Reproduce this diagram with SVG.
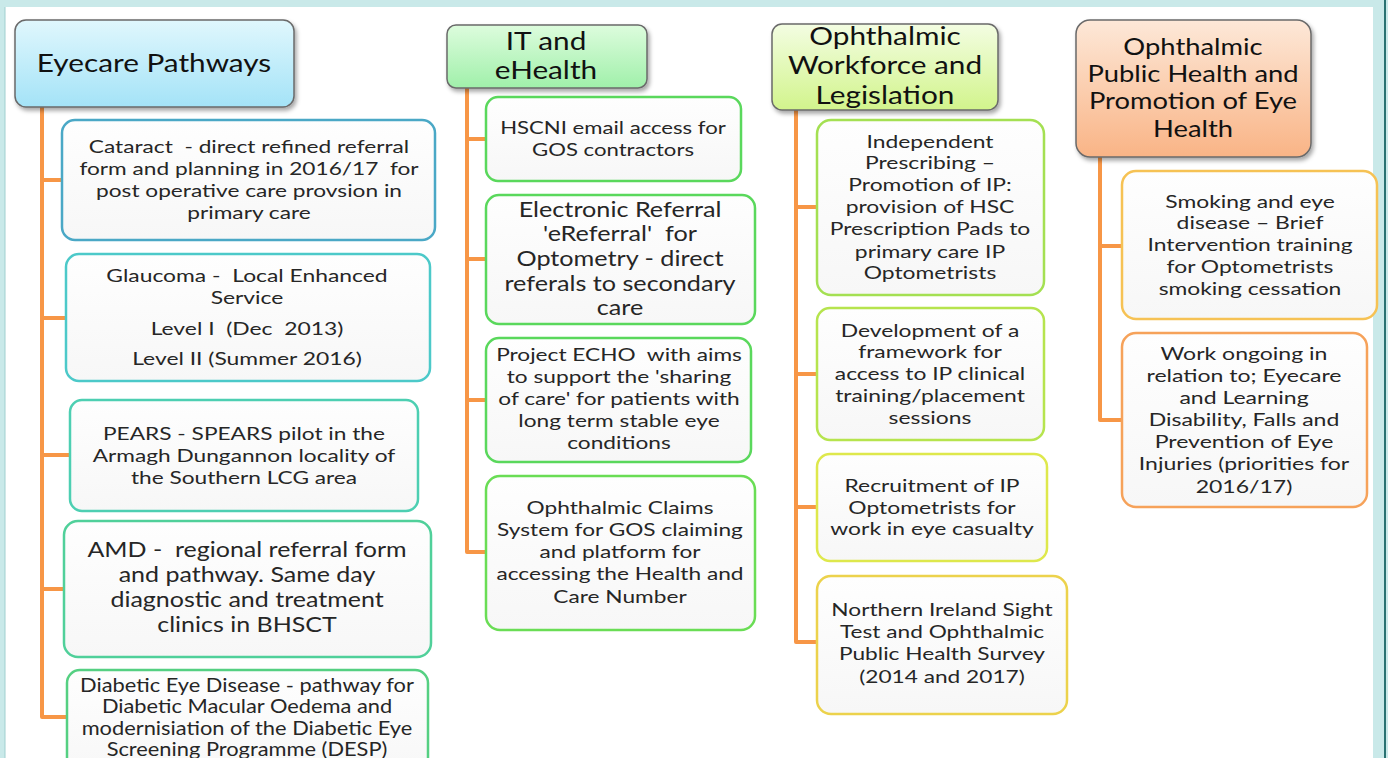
<svg xmlns="http://www.w3.org/2000/svg" width="1388" height="758" viewBox="0 0 1388 758">
<style>
text{font-family:Lato,"Liberation Sans",sans-serif;fill:#262626;text-anchor:middle;white-space:pre}
.h{font-size:25px;fill:#111}
.h2{font-size:23px;fill:#111}
.t{font-size:18px}
.tl{font-size:21px}
.tm{font-size:19.5px}
.box{fill:url(#bx);stroke-width:2.5}
.hd{stroke:#6a6a6a;stroke-width:1.5;filter:url(#sh)}
.con{fill:none;stroke:#f79646;stroke-width:4;stroke-linejoin:round}
</style>
<defs>
<linearGradient id="bx" x1="0" y1="0" x2="0" y2="1"><stop offset="0" stop-color="#fefefe"/><stop offset="1" stop-color="#f7f7f7"/></linearGradient>
<linearGradient id="g1" x1="0" y1="0" x2="0" y2="1"><stop offset="0" stop-color="#e0f7fd"/><stop offset="1" stop-color="#a4e3f7"/></linearGradient>
<linearGradient id="g2" x1="0" y1="0" x2="0" y2="1"><stop offset="0" stop-color="#ddfcdd"/><stop offset="1" stop-color="#a0f0aa"/></linearGradient>
<linearGradient id="g3" x1="0" y1="0" x2="0" y2="1"><stop offset="0" stop-color="#f3fde2"/><stop offset="1" stop-color="#d2f48c"/></linearGradient>
<linearGradient id="g4" x1="0" y1="0" x2="0" y2="1"><stop offset="0" stop-color="#fde8d8"/><stop offset="1" stop-color="#f9b486"/></linearGradient>
<filter id="sh" x="-10%" y="-10%" width="125%" height="130%"><feDropShadow dx="2" dy="3" stdDeviation="2" flood-color="#000" flood-opacity="0.35"/></filter>
</defs>
<rect x="0" y="0" width="1388" height="758" fill="#c9e9e9"/>
<rect x="5" y="7" width="1368" height="751" fill="#ffffff"/>
<line x1="5" y1="7" x2="5" y2="758" stroke="#9fcfcf" stroke-width="1"/>
<rect x="1384" y="0" width="2" height="758" fill="#2a7272"/>

<g id="connectors">
<path class="con" d="M42,107 V717 H67 M42,180 H62 M42,318 H66 M42,455 H70 M42,589 H64"/>
<path class="con" d="M467,88 V552 H486 M467,139 H486 M467,259 H486 M467,400 H486"/>
<path class="con" d="M796,110 V642 H817 M796,207 H817 M796,374 H817 M796,507 H817"/>
<path class="con" d="M1100,157 V420 H1122 M1100,246 H1122"/>
</g>

<g id="h-eyecare">
<rect class="hd" x="15" y="20" width="279" height="87" rx="11" fill="url(#g1)"/>
<g transform="translate(154 0) scale(1.19 1)"><text class="h" x="0" y="72">Eyecare Pathways</text></g>
</g>
<g id="h-it">
<rect class="hd" x="447" y="25" width="200" height="63" rx="9" fill="url(#g2)"/>
<g transform="translate(546 0) scale(1.19 1)">
<text class="h" x="0" y="50">IT and</text>
<text class="h" x="0" y="79">eHealth</text>
</g>
</g>
<g id="h-workforce">
<rect class="hd" x="772" y="24" width="226" height="86" rx="10" fill="url(#g3)"/>
<g transform="translate(885 0) scale(1.19 1)">
<text class="h" x="0" y="45">Ophthalmic</text>
<text class="h" x="0" y="74">Workforce and</text>
<text class="h" x="0" y="104">Legislation</text>
</g>
</g>
<g id="h-public">
<rect class="hd" x="1076" y="20" width="235" height="137" rx="14" fill="url(#g4)"/>
<g transform="translate(1193 0) scale(1.19 1)">
<text class="h2" x="0" y="55">Ophthalmic</text>
<text class="h2" x="0" y="82">Public Health and</text>
<text class="h2" x="0" y="109">Promotion of Eye</text>
<text class="h2" x="0" y="137">Health</text>
</g>
</g>

<g id="n-cataract">
<rect class="box" x="62" y="120" width="373" height="120" rx="13" stroke="#4aa8c6"/>
<g transform="translate(249 0) scale(1.26 1)">
<text class="t" x="0" y="153">Cataract  - direct refined referral</text>
<text class="t" x="0" y="175">form and planning in 2016/17  for</text>
<text class="t" x="0" y="197">post operative care provsion in</text>
<text class="t" x="0" y="219">primary care</text>
</g>
</g>
<g id="n-glaucoma">
<rect class="box" x="66" y="254" width="364" height="127" rx="13" stroke="#4cc9c9"/>
<g transform="translate(247 0) scale(1.27 1)">
<text class="t" x="0" y="282">Glaucoma -  Local Enhanced</text>
<text class="t" x="0" y="304">Service</text>
<text class="t" x="0" y="335">Level I  (Dec  2013)</text>
<text class="t" x="0" y="365">Level II (Summer 2016)</text>
</g>
</g>
<g id="n-pears">
<rect class="box" x="70" y="400" width="348" height="111" rx="12" stroke="#4dcfb2"/>
<g transform="translate(244 0) scale(1.26 1)">
<text class="t" x="0" y="440">PEARS - SPEARS pilot in the</text>
<text class="t" x="0" y="462">Armagh Dungannon locality of</text>
<text class="t" x="0" y="484">the Southern LCG area</text>
</g>
</g>
<g id="n-amd">
<rect class="box" x="64" y="521" width="367" height="136" rx="14" stroke="#50d09a"/>
<g transform="translate(247 0) scale(1.19 1)">
<text class="tl" x="0" y="557">AMD -  regional referral form</text>
<text class="tl" x="0" y="582">and pathway. Same day</text>
<text class="tl" x="0" y="607">diagnostic and treatment</text>
<text class="tl" x="0" y="632">clinics in BHSCT</text>
</g>
</g>
<g id="n-diabetic">
<rect class="box" x="67" y="670" width="361" height="110" rx="13" stroke="#55d082"/>
<g transform="translate(247 0) scale(1.12 1)">
<text class="tm" x="0" y="692">Diabetic Eye Disease - pathway for</text>
<text class="tm" x="0" y="713">Diabetic Macular Oedema and</text>
<text class="tm" x="0" y="735">modernisiation of the Diabetic Eye</text>
<text class="tm" x="0" y="756">Screening Programme (DESP)</text>
</g>
</g>

<g id="n-hscni">
<rect class="box" x="486" y="97" width="255" height="84" rx="12" stroke="#5ad85c"/>
<g transform="translate(613 0) scale(1.23 1)">
<text class="t" x="0" y="134">HSCNI email access for</text>
<text class="t" x="0" y="156">GOS contractors</text>
</g>
</g>
<g id="n-ereferral">
<rect class="box" x="486" y="195" width="269" height="129" rx="13" stroke="#5ad85c"/>
<g transform="translate(620 0) scale(1.2 1)">
<text class="tl" x="0" y="217">Electronic Referral</text>
<text class="tl" x="0" y="241">'eReferral'  for</text>
<text class="tl" x="0" y="266">Optometry - direct</text>
<text class="tl" x="0" y="291">referals to secondary</text>
<text class="tl" x="0" y="315">care</text>
</g>
</g>
<g id="n-echo">
<rect class="box" x="486" y="338" width="265" height="124" rx="13" stroke="#5ad85c"/>
<g transform="translate(619 0) scale(1.26 1)">
<text class="t" x="0" y="361">Project ECHO  with aims</text>
<text class="t" x="0" y="383">to support the 'sharing</text>
<text class="t" x="0" y="405">of care' for patients with</text>
<text class="t" x="0" y="427">long term stable eye</text>
<text class="t" x="0" y="449">conditions</text>
</g>
</g>
<g id="n-claims">
<rect class="box" x="486" y="476" width="269" height="154" rx="14" stroke="#6add55"/>
<g transform="translate(620 0) scale(1.26 1)">
<text class="t" x="0" y="514">Ophthalmic Claims</text>
<text class="t" x="0" y="536">System for GOS claiming</text>
<text class="t" x="0" y="558">and platform for</text>
<text class="t" x="0" y="580">accessing the Health and</text>
<text class="t" x="0" y="603">Care Number</text>
</g>
</g>

<g id="n-ip">
<rect class="box" x="817" y="120" width="227" height="175" rx="14" stroke="#a4e052"/>
<g transform="translate(930 0) scale(1.27 1)">
<text class="t" x="0" y="148">Independent</text>
<text class="t" x="0" y="169">Prescribing –</text>
<text class="t" x="0" y="191">Promotion of IP:</text>
<text class="t" x="0" y="213">provision of HSC</text>
<text class="t" x="0" y="235">Prescription Pads to</text>
<text class="t" x="0" y="258">primary care IP</text>
<text class="t" x="0" y="279">Optometrists</text>
</g>
</g>
<g id="n-development">
<rect class="box" x="817" y="308" width="227" height="132" rx="13" stroke="#b6e44e"/>
<g transform="translate(930 0) scale(1.27 1)">
<text class="t" x="0" y="337">Development of a</text>
<text class="t" x="0" y="358">framework for</text>
<text class="t" x="0" y="380">access to IP clinical</text>
<text class="t" x="0" y="402">training/placement</text>
<text class="t" x="0" y="424">sessions</text>
</g>
</g>
<g id="n-recruitment">
<rect class="box" x="817" y="454" width="230" height="107" rx="13" stroke="#dee84c"/>
<g transform="translate(932 0) scale(1.27 1)">
<text class="t" x="0" y="492">Recruitment of IP</text>
<text class="t" x="0" y="514">Optometrists for</text>
<text class="t" x="0" y="535">work in eye casualty</text>
</g>
</g>
<g id="n-survey">
<rect class="box" x="817" y="576" width="250" height="138" rx="14" stroke="#ecd24c"/>
<g transform="translate(942 0) scale(1.26 1)">
<text class="t" x="0" y="616">Northern Ireland Sight</text>
<text class="t" x="0" y="638">Test and Ophthalmic</text>
<text class="t" x="0" y="660">Public Health Survey</text>
<text class="t" x="0" y="683">(2014 and 2017)</text>
</g>
</g>

<g id="n-smoking">
<rect class="box" x="1122" y="171" width="255" height="148" rx="14" stroke="#f6c254"/>
<g transform="translate(1250 0) scale(1.27 1)">
<text class="t" x="0" y="208">Smoking and eye</text>
<text class="t" x="0" y="229">disease – Brief</text>
<text class="t" x="0" y="251">Intervention training</text>
<text class="t" x="0" y="273">for Optometrists</text>
<text class="t" x="0" y="295">smoking cessation</text>
</g>
</g>
<g id="n-work">
<rect class="box" x="1122" y="333" width="245" height="174" rx="14" stroke="#f6a25a"/>
<g transform="translate(1244 0) scale(1.28 1)">
<text class="t" x="0" y="360">Work ongoing in</text>
<text class="t" x="0" y="382">relation to; Eyecare</text>
<text class="t" x="0" y="404">and Learning</text>
<text class="t" x="0" y="426">Disability, Falls and</text>
<text class="t" x="0" y="448">Prevention of Eye</text>
<text class="t" x="0" y="470">Injuries (priorities for</text>
<text class="t" x="0" y="493">2016/17)</text>
</g>
</g>
</svg>
